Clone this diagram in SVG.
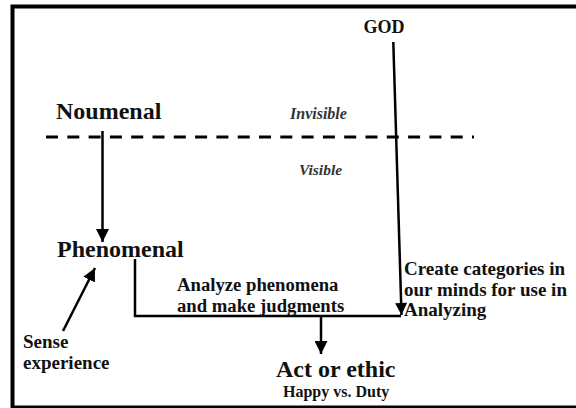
<svg xmlns="http://www.w3.org/2000/svg" width="576" height="408" viewBox="0 0 576 408">
  <style>
    text { font-family: 'Liberation Serif', serif; font-weight: bold; fill: #111; }
    .it { font-style: italic; fill: #333; }
    .wire { fill: none; stroke: #000; stroke-width: 2.5; }
  </style>
  <defs>
    <marker id="ah" viewBox="0 0 10 10" refX="10" refY="5" markerWidth="13" markerHeight="13" markerUnits="userSpaceOnUse" orient="auto">
      <path d="M0,0 L10,5 L0,10 z" fill="#000"/>
    </marker>
    <marker id="ahs" viewBox="0 0 10 10" refX="10" refY="5" markerWidth="13" markerHeight="12" markerUnits="userSpaceOnUse" orient="auto">
      <path d="M0,0 L10,5 L0,10 z" fill="#000"/>
    </marker>
  </defs>

  <rect width="576" height="408" fill="#fff"/>
  <!-- frame (runs off the right and bottom edges) -->
  <rect x="12.5" y="6.5" width="600" height="401" fill="none" stroke="#000" stroke-width="4"/>

  <!-- boundary between invisible and visible worlds -->
  <line x1="46" y1="137" x2="474" y2="137" stroke="#000" stroke-width="3" stroke-dasharray="12 9.3"/>
  <text class="it" x="290" y="119" font-size="16">Invisible</text>
  <text class="it" x="299" y="175" font-size="15.5">Visible</text>

  <g id="connectors">
    <line class="wire" x1="102.5" y1="131" x2="102.5" y2="242" marker-end="url(#ah)"/>
    <line class="wire" x1="63" y1="331" x2="95" y2="268" marker-end="url(#ah)"/>
    <polyline class="wire" points="135,259 135,316 401,316"/>
    <line class="wire" x1="393.3" y1="42" x2="401.5" y2="315" marker-end="url(#ahs)"/>
    <line class="wire" x1="321" y1="316" x2="321" y2="354" marker-end="url(#ah)"/>
  </g>

  <g id="god">
    <text x="384" y="32.7" font-size="18" text-anchor="middle">GOD</text>
  </g>
  <g id="noumenal">
    <text x="56" y="119" font-size="24">Noumenal</text>
  </g>
  <g id="phenomenal">
    <text x="57" y="256.5" font-size="24">Phenomenal</text>
  </g>
  <g id="analyze">
    <text x="177" y="290.7" font-size="18.7">Analyze phenomena</text>
    <text x="177" y="311.5" font-size="18.7">and make judgments</text>
  </g>
  <g id="categories">
    <text x="404" y="275" font-size="19">Create categories in</text>
    <text x="404" y="295.5" font-size="19">our minds for use in</text>
    <text x="404" y="316" font-size="19">Analyzing</text>
  </g>
  <g id="sense">
    <text x="23" y="348" font-size="19">Sense</text>
    <text x="23" y="368.5" font-size="19">experience</text>
  </g>
  <g id="act">
    <text x="276" y="377" font-size="24">Act or ethic</text>
    <text x="283" y="396.5" font-size="16">Happy vs. Duty</text>
  </g>
</svg>
